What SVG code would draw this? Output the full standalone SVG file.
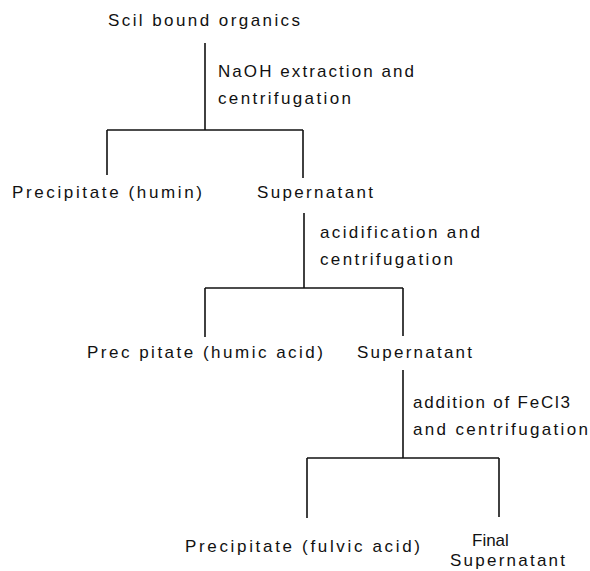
<svg xmlns="http://www.w3.org/2000/svg" width="590" height="571" viewBox="0 0 590 571">
<style>
text{font-family:"Liberation Sans","DejaVu Sans",sans-serif;font-size:17px;fill:#111}
.c line{stroke:#111;stroke-width:1.6}
</style>
<rect width="590" height="571" fill="#fff"/>
<g class="c" id="connectors">
<line x1="205" y1="43" x2="205" y2="130"/>
<line x1="107" y1="130" x2="303" y2="130"/>
<line x1="107" y1="130" x2="107" y2="175"/>
<line x1="303" y1="130" x2="303" y2="178"/>
<line x1="304" y1="213" x2="304" y2="288"/>
<line x1="205" y1="288" x2="403" y2="288"/>
<line x1="205" y1="288" x2="205" y2="337"/>
<line x1="403" y1="288" x2="403" y2="336"/>
<line x1="403" y1="370" x2="403" y2="458"/>
<line x1="307" y1="458" x2="499" y2="458"/>
<line x1="307" y1="458" x2="307" y2="518"/>
<line x1="499" y1="458" x2="499" y2="517"/>
</g>
<g id="n-soil"><text x="108" y="26" textLength="192" lengthAdjust="spacing">Scil bound organics</text></g>
<g id="l-naoh"><text x="218" y="77" textLength="196" lengthAdjust="spacing">NaOH extraction and</text><text x="218" y="104" textLength="133" lengthAdjust="spacing">centrifugation</text></g>
<g id="n-humin"><text x="12" y="198" textLength="190" lengthAdjust="spacing">Precipitate (humin)</text></g>
<g id="n-super1"><text x="257" y="198" textLength="116" lengthAdjust="spacing">Supernatant</text></g>
<g id="l-acid"><text x="320" y="238" textLength="160" lengthAdjust="spacing">acidification and</text><text x="320" y="265" textLength="133" lengthAdjust="spacing">centrifugation</text></g>
<g id="n-humic"><text x="87" y="358" textLength="236" lengthAdjust="spacing">Prec pitate (humic acid)</text></g>
<g id="n-super2"><text x="357" y="358" textLength="115" lengthAdjust="spacing">Supernatant</text></g>
<g id="l-fecl"><text x="413" y="408" textLength="157" lengthAdjust="spacing">addition of FeCl3</text><text x="413" y="435" textLength="175" lengthAdjust="spacing">and centrifugation</text></g>
<g id="n-fulvic"><text x="185" y="552" textLength="235" lengthAdjust="spacing">Precipitate (fulvic acid)</text></g>
<g id="n-final"><text x="472" y="546">Final</text><text x="450" y="566" textLength="115" lengthAdjust="spacing">Supernatant</text></g>
</svg>
